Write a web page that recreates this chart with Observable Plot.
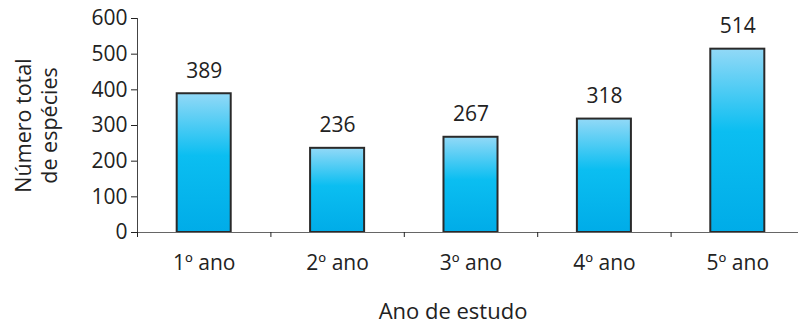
<!DOCTYPE html>
<html>
<head>
<meta charset="utf-8">
<script src="https://cdn.jsdelivr.net/npm/d3@7"></script>
<script src="https://cdn.jsdelivr.net/npm/@observablehq/plot@0.6"></script>
<style>
  body { margin: 0; background: #fff; }
</style>
</head>
<body>
<div id="chart"></div>
<script>
// Total number of species recorded in each year of the study
const categories = ["1º ano", "2º ano", "3º ano", "4º ano", "5º ano"];
const species = [389, 236, 267, 318, 514];
const yTicks = [0, 100, 200, 300, 400, 500, 600];
const yLabel = "Número total\nde espécies";
const xLabel = "Ano de estudo";

const data = categories.map((label, i) => ({ pos: i + 1, label, value: species[i] }));
const halfBar = 0.2025; // half of the bar width, in category units
const boundaries = d3.range(0.5, categories.length + 1, 1);

const plot = Plot.plot({
  width: 798,
  height: 323,
  marginLeft: 137,
  marginRight: -6,
  marginTop: 18,
  marginBottom: 91,
  style: { fontFamily: "'Open Sans', sans-serif", fontSize: "21px", color: "#222", background: "#fff" },
  x: { type: "linear", domain: [0.5, categories.length + 0.5], axis: null },
  y: { domain: [0, 600], axis: null },
  marks: [
    Plot.rectY(data, {
      x1: d => d.pos - halfBar,
      x2: d => d.pos + halfBar,
      y: "value",
      fill: "url(#barGrad)",
      stroke: "#2a2a2a",
      strokeWidth: 2
    }),
    Plot.ruleY([0], { stroke: "#666", strokeWidth: 1.2 }),
    Plot.ruleX([0.5], { y1: 0, y2: 600, stroke: "#444" }),
    Plot.axisY({ ticks: yTicks, tickSize: 6, tickPadding: 4, label: null }),
    Plot.axisX({ ticks: boundaries, tickSize: 5, tickFormat: () => "", label: null }),
    Plot.axisX({
      ticks: data.map(d => d.pos),
      tickSize: 0,
      tickPadding: 23,
      tickFormat: p => categories[p - 1],
      label: null
    }),
    Plot.text(data, { x: "pos", y: "value", text: d => String(d.value), dy: -16, lineAnchor: "bottom", fill: "#222" }),
    Plot.text([yLabel], {
      frameAnchor: "left",
      textAnchor: "middle",
      dx: -102,
      dy: 0,
      rotate: -90,
      lineHeight: 1.24,
      fontSize: 21.5,
      fill: "#222"
    }),
    Plot.text([xLabel], { frameAnchor: "bottom", dx: -18, dy: 86, lineAnchor: "bottom", fontSize: 22, fill: "#222" })
  ]
});

// Vertical gradient used to fill each bar
const svg = plot.tagName.toLowerCase() === "svg" ? plot : plot.querySelector("svg");
const grad = d3.select(svg).insert("defs", ":first-child")
  .append("linearGradient")
  .attr("id", "barGrad")
  .attr("x1", 0).attr("y1", 0).attr("x2", 0).attr("y2", 1);
grad.append("stop").attr("offset", "0%").attr("stop-color", "#92d9f7");
grad.append("stop").attr("offset", "45%").attr("stop-color", "#0bbef1");
grad.append("stop").attr("offset", "100%").attr("stop-color", "#00ace8");

document.getElementById("chart").appendChild(plot);
</script>
</body>
</html>
